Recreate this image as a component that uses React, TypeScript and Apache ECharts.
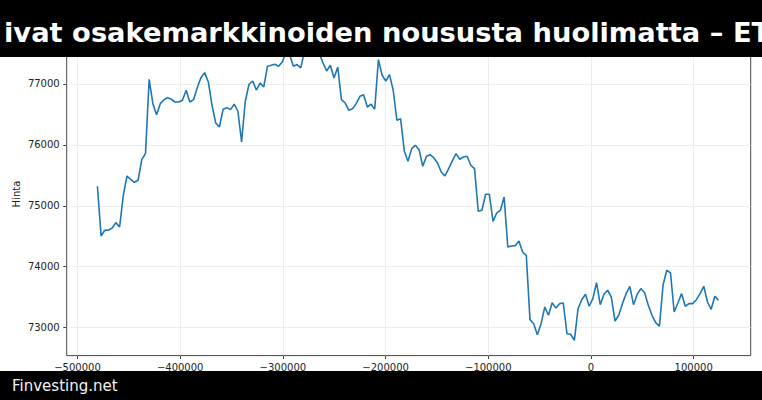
import React, { useEffect, useRef } from 'react';
import * as echarts from 'echarts';

const titleText = 'ivat osakemarkkinoiden noususta huolimatta – ET';
const footerText = 'Finvesting.net';
const yAxisName = 'Hinta';

// hourly samples, seconds relative to reference time
const xStart = -480600;
const xStep = 3600;

const prices = [
  75320, 74504, 74598, 74600, 74636, 74723, 74652, 75172, 75489, 75435,
  75386, 75419, 75757, 75856, 77077, 76677, 76496, 76677, 76742, 76775,
  76749, 76704, 76704, 76732, 76897, 76704, 76742, 76939, 77103, 77186,
  77033, 76650, 76360, 76294, 76585, 76611, 76578, 76667, 76552, 76048,
  76716, 76995, 77049, 76897, 77016, 76951, 77291, 77307, 77323, 77291,
  77361, 77520, 77480, 77291, 77318, 77263, 77540, 77600, 77560, 77580,
  77500, 77350, 77213, 77307, 77099, 77279, 76742, 76688, 76568, 76594,
  76677, 76798, 76824, 76622, 76667, 76585, 77399, 77143, 77049, 77153,
  76897, 76404, 76430, 75900, 75731, 75938, 75993, 75921, 75649, 75813,
  75839, 75785, 75703, 75555, 75489, 75609, 75736, 75856, 75764, 75801,
  75813, 75665, 75609, 74910, 74926, 75189, 75189, 74745, 74882, 74926,
  75145, 74324, 74340, 74345, 74422, 74241, 74187, 73130, 73064, 72883,
  73064, 73338, 73202, 73409, 73320, 73393, 73404, 72900, 72890, 72791,
  73310, 73458, 73547, 73350, 73475, 73737, 73376, 73547, 73613, 73502,
  73108, 73202, 73393, 73557, 73678, 73376, 73547, 73639, 73573, 73366,
  73202, 73081, 73021, 73704, 73941, 73897, 73256, 73404, 73557, 73350,
  73393, 73393, 73458, 73557, 73678, 73420, 73300, 73514, 73448,
];

const xTicks = [-500000, -400000, -300000, -200000, -100000, 0, 100000];
const yTicks = [73000, 74000, 75000, 76000, 77000];

const fmt = (v: number) => String(v).replace('-', '\u2212');

export default function App() {
  const ref = useRef<HTMLDivElement>(null);
  useEffect(() => {
    const chart = echarts.init(ref.current!, null, { renderer: 'svg' });
    const data = prices.map((v, i) => [xStart + i * xStep, v]);
    const font = 'DejaVu Sans';
    chart.setOption({
      animation: false,
      backgroundColor: '#ffffff',
      grid: {
        left: 66.7,
        right: 11.3,
        top: 32.5,
        bottom: 44.4,
        containLabel: false,
        outerBoundsMode: 'none',
        show: true,
        borderColor: '#333333',
        borderWidth: 0.9,
        backgroundColor: 'transparent',
      },
      xAxis: {
        type: 'value',
        min: -510500,
        max: 155500,
        axisLine: { show: false, onZero: false },
        axisTick: {
          show: true,
          customValues: xTicks,
          length: 3.5,
          lineStyle: { color: '#333333', width: 0.9 },
        },
        axisLabel: {
          show: true,
          customValues: xTicks,
          formatter: fmt,
          fontSize: 10,
          fontFamily: font,
          color: '#222222',
          margin: 7,
        },
        splitLine: { show: true, lineStyle: { color: '#ebebeb', width: 0.9 } },
      },
      yAxis: {
        type: 'value',
        min: 72540,
        max: 77845,
        name: yAxisName,
        nameLocation: 'middle',
        nameRotate: 90,
        nameGap: 45,
        nameMoveOverlap: false,
        nameTextStyle: { fontSize: 10, fontFamily: font, color: '#222222' },
        axisLine: { show: false, onZero: false },
        axisTick: {
          show: true,
          customValues: yTicks,
          length: 3.5,
          lineStyle: { color: '#333333', width: 0.9 },
        },
        axisLabel: {
          show: true,
          customValues: yTicks,
          formatter: fmt,
          fontSize: 10,
          fontFamily: font,
          color: '#222222',
          margin: 7,
        },
        splitLine: { show: true, lineStyle: { color: '#ebebeb', width: 0.9 } },
      },
      series: [
        {
          type: 'line',
          data,
          showSymbol: false,
          symbol: 'none',
          clip: true,
          lineStyle: { color: '#1f77b4', width: 1.6 },
          z: 3,
        },
      ],
      graphic: [
        {
          type: 'rect',
          z: 100,
          shape: { x: 0, y: 0, width: 762, height: 57 },
          style: { fill: '#000000' },
        },
        {
          type: 'text',
          z: 101,
          x: 4,
          y: 32,
          style: {
            text: titleText,
            fill: '#ffffff',
            font: `bold 27.3px "${font}"`,
            verticalAlign: 'middle',
            align: 'left',
          },
        },
        {
          type: 'rect',
          z: 100,
          shape: { x: 0, y: 371, width: 762, height: 29 },
          style: { fill: '#000000' },
        },
        {
          type: 'text',
          z: 101,
          x: 12,
          y: 385.5,
          style: {
            text: footerText,
            fill: '#f2f2f2',
            font: `15px "${font}"`,
            verticalAlign: 'middle',
            align: 'left',
          },
        },
      ],
    });
    return () => chart.dispose();
  }, []);
  return (
    <div
      ref={ref}
      style={{ position: 'absolute', left: 0, top: 0, width: 762, height: 400 }}
    />
  );
}
